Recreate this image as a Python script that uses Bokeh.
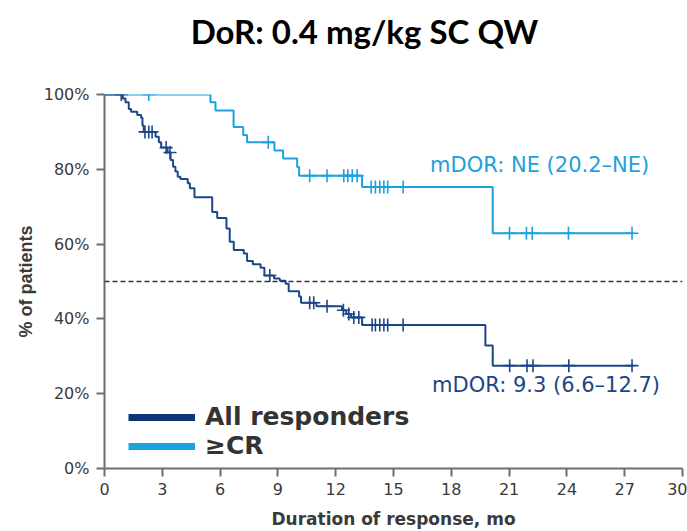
import numpy as np
from bokeh.plotting import figure
from bokeh.layouts import column
from bokeh.models import Span, Label, Legend, LegendItem, FixedTicker, Range1d
from bokeh.embed import file_html
from bokeh.resources import INLINE

# Kaplan-Meier duration of response, 0.4 mg/kg SC QW
# All responders: event times (months) and survival (%) after each event
all_times = [0.95, 1.09, 1.26, 1.38, 1.70, 1.90, 1.97, 2.04, 2.65, 2.82, 2.94,
             3.27, 3.43, 3.56, 3.68, 3.80, 3.94, 4.32, 4.43, 4.67, 5.59, 5.85,
             6.33, 6.50, 6.71, 7.23, 7.40, 7.70, 8.10, 8.30, 8.80, 9.10, 9.40,
             9.56, 10.10, 10.20, 11.00, 12.33, 12.55, 12.80, 13.37, 19.77, 20.15]
all_surv = [98.9, 97.9, 96.1, 95.4, 94.5, 93.8, 91.7, 90.0, 88.7, 87.2, 85.8,
            84.5, 82.5, 80.7, 79.4, 78.0, 77.4, 76.3, 74.9, 72.5, 68.6, 67.0,
            64.2, 60.6, 58.4, 57.5, 55.5, 54.6, 53.7, 51.6, 50.8, 50.2, 49.4,
            47.4, 46.0, 44.3, 43.4, 42.3, 41.3, 40.4, 38.4, 32.9, 27.5]
all_censor = [0.87, 2.10, 2.30, 2.47, 3.20, 3.40, 8.58, 10.65, 10.86, 11.55,
              12.40, 12.68, 12.94, 13.20, 13.89, 14.06, 14.29, 14.50, 14.70,
              15.50, 21.03, 21.93, 22.24, 24.10, 27.38]

# Complete response or better
cr_times = [5.50, 5.76, 6.70, 7.20, 7.40, 8.82, 9.27, 10.00, 10.10, 13.37, 20.15]
cr_surv = [97.9, 95.7, 91.3, 89.2, 87.2, 85.0, 82.9, 80.6, 78.3, 75.3, 62.9]
cr_censor = [2.30, 8.50, 10.65, 11.55, 12.42, 12.63, 12.86, 13.11, 13.84, 14.06,
             14.29, 14.50, 14.70, 15.50, 21.02, 21.90, 22.20, 24.08, 27.38]

follow_up_end = 27.45

x_ticks = [0, 3, 6, 9, 12, 15, 18, 21, 24, 27, 30]
x_tick_labels = ["0", "3", "6", "9", "12", "15", "18", "21", "24", "27", "30"]
y_ticks = [0, 20, 40, 60, 80, 100]
y_tick_labels = ["0%", "20%", "40%", "60%", "80%", "100%"]
median_level = 50

title_text = "DoR: 0.4 mg/kg SC QW"
all_note = "mDOR: 9.3 (6.6\u201312.7)"
cr_note = "mDOR: NE (20.2\u2013NE)"
legend_labels = ["All responders", "\u2265CR"]

DARK = "#1c4787"
DARK_KEY = "#0b3577"
LIGHT = "#1ba1dd"
LIGHT_KEY = "#1aa3e0"
AXIS = "#6f6f6f"
TEXT = "#3a3a3a"


def km_path(times, surv, end):
    xs = [0.0] + list(times) + [end]
    ys = [100.0] + list(surv) + [surv[-1]]
    return xs, ys


def censor_levels(times, surv, censor):
    levels = np.array([100.0] + list(surv))
    idx = np.searchsorted(np.array(times), np.array(censor), side="right")
    return levels[idx]


# ---- title strip: a bare figure above the survival plot ----
TITLE_W, TITLE_H = 687, 84
head = figure(width=TITLE_W, height=TITLE_H, output_backend="svg",
              toolbar_location=None, x_axis_location=None, y_axis_location=None,
              x_range=Range1d(0, TITLE_W), y_range=Range1d(0, TITLE_H),
              min_border=0, min_border_left=0, min_border_right=0,
              min_border_top=0, min_border_bottom=0)
head.grid.visible = False
head.outline_line_color = None
head.add_layout(Label(x=309, y=54, text=title_text, text_align="center",
                      text_baseline="alphabetic", text_font="Lato",
                      text_font_style="bold", text_font_size="33px",
                      text_color="black"))

# ---- survival plot ----
p = figure(width=687, height=531 - TITLE_H, output_backend="svg",
           toolbar_location=None,
           x_range=Range1d(0, 30), y_range=Range1d(0, 100),
           min_border_left=104, min_border_right=5,
           min_border_top=10, min_border_bottom=62)
p.outline_line_color = None
p.xgrid.visible = False
p.ygrid.visible = False
p.background_fill_color = "white"
p.border_fill_color = "white"

# axes
for ax in (p.xaxis[0], p.yaxis[0]):
    ax.axis_line_color = AXIS
    ax.axis_line_width = 2
    ax.major_tick_line_color = AXIS
    ax.major_tick_line_width = 2
    ax.major_tick_in = 0
    ax.major_tick_out = 8
    ax.minor_tick_line_color = None
    ax.major_label_text_font = "DejaVu Sans"
    ax.major_label_text_font_size = "16px"
    ax.major_label_text_color = TEXT
    ax.axis_label_text_color = TEXT
    ax.axis_label_text_font_style = "bold"

p.xaxis.ticker = FixedTicker(ticks=x_ticks)
p.xaxis.major_label_overrides = dict(zip(x_ticks, x_tick_labels))
p.xaxis.major_label_standoff = 6
p.xaxis.axis_label = "Duration of response, mo"
p.xaxis.axis_label_text_font = "DejaVu Sans"
p.xaxis.axis_label_text_font_size = "17px"
p.xaxis.axis_label_standoff = 11

p.yaxis.ticker = FixedTicker(ticks=y_ticks)
p.yaxis.major_label_overrides = dict(zip(y_ticks, y_tick_labels))
p.yaxis.major_label_standoff = 7
p.yaxis.axis_label = "% of patients"
p.yaxis.axis_label_text_font = "Liberation Sans"
p.yaxis.axis_label_text_font_size = "18px"
p.yaxis.axis_label_standoff = 5

# median reference line
p.add_layout(Span(location=median_level, dimension="width", line_color="#333333",
                  line_width=1.5, line_dash="5 3"))

# survival curves
cx, cy = km_path(cr_times, cr_surv, follow_up_end)
p.step(cx, cy, mode="after", line_color=LIGHT, line_width=2)
p.scatter(cr_censor, censor_levels(cr_times, cr_surv, cr_censor), marker="cross",
          size=13, line_color=LIGHT, line_width=1.6)

ax_, ay_ = km_path(all_times, all_surv, follow_up_end)
p.step(ax_, ay_, mode="after", line_color=DARK, line_width=2)
p.scatter(all_censor, censor_levels(all_times, all_surv, all_censor), marker="cross",
          size=13, line_color=DARK, line_width=1.6)

# median annotations
p.add_layout(Label(x=16.9, y=81.2, text=cr_note, text_color=LIGHT,
                   text_font="DejaVu Sans", text_font_size="21px",
                   text_baseline="middle"))
p.add_layout(Label(x=17.0, y=22.4, text=all_note, text_color=DARK,
                   text_font="DejaVu Sans", text_font_size="21px",
                   text_baseline="middle"))

# legend keys: thick line swatches kept outside the visible ranges
k1 = p.line([-5, -4], [-5, -5], line_color=DARK_KEY, line_width=7)
k2 = p.line([-5, -4], [-5, -5], line_color=LIGHT_KEY, line_width=7)
legend = Legend(items=[LegendItem(label=legend_labels[0], renderers=[k1]),
                       LegendItem(label=legend_labels[1], renderers=[k2])],
                location=(24, 8), glyph_width=67, glyph_height=20,
                label_height=20, label_standoff=10, spacing=0, padding=0,
                margin=0, border_line_color=None, background_fill_alpha=0,
                label_text_font="DejaVu Sans", label_text_font_style="bold",
                label_text_font_size="25px", label_text_line_height=0.85,
                label_text_color="#333333")
p.add_layout(legend)

page = column(head, p, spacing=0)
open("out.html", "w").write(file_html(page, INLINE))
